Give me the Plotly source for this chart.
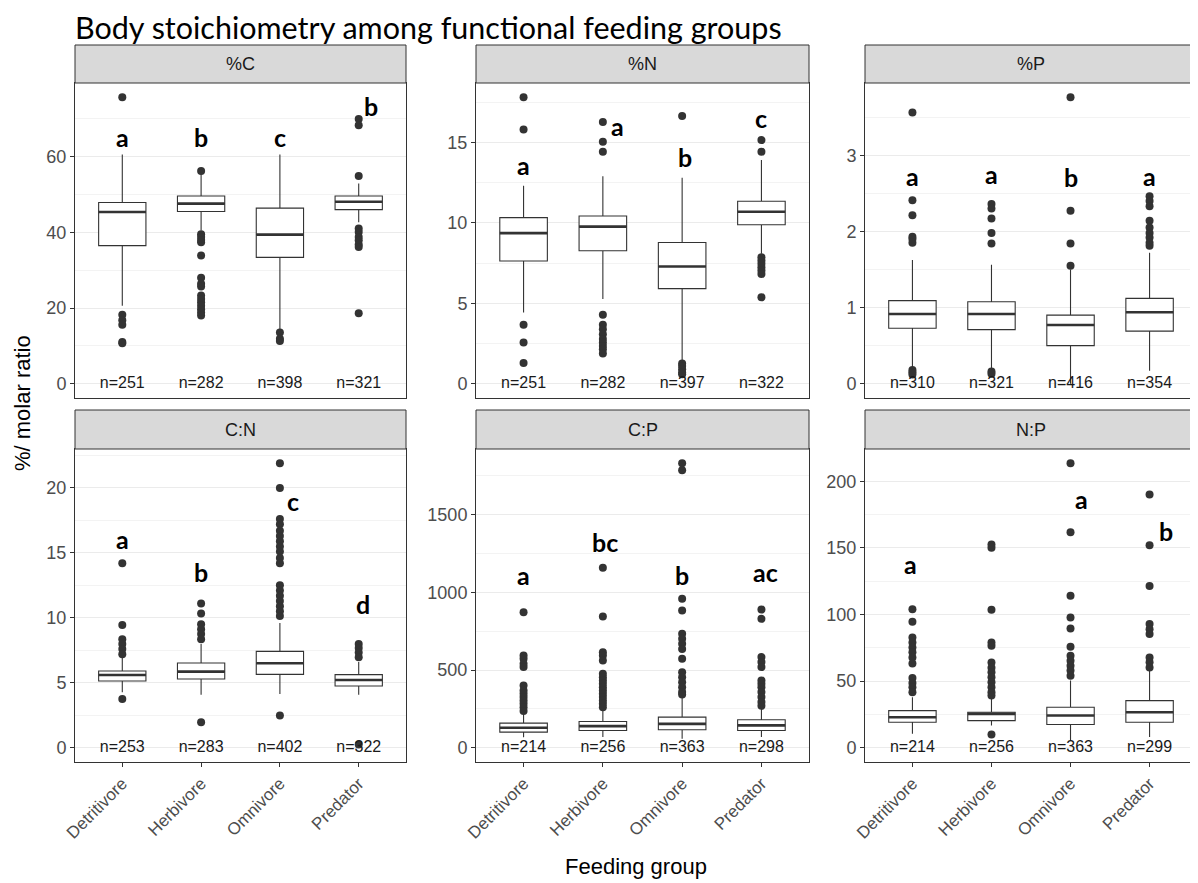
import plotly.graph_objects as go

GROUPS = ["Detritivore", "Herbivore", "Omnivore", "Predator"]
TITLE = "Body stoichiometry among functional feeding groups"
X_TITLE = "Feeding group"
Y_TITLE = "%/ molar ratio"

# ---------------- %C ----------------
PC_Q1 = [36.5, 45.5, 33.4, 46.0]
PC_MED = [45.4, 47.6, 39.4, 48.1]
PC_Q3 = [47.9, 49.6, 46.4, 49.6]
PC_LO = [20.6, 40.5, 14.4, 42.7]
PC_HI = [60.6, 55.5, 60.6, 52.9]
PC_OUT = [
    [75.7, 18.2, 16.8, 15.6, 11.0, 10.7],
    [56.2, 39.5, 38.8, 38.0, 37.4, 33.9, 28.0, 26.4, 25.7, 23.3, 22.4, 21.5, 20.6, 19.7, 18.8, 18.0],
    [13.5, 11.9, 11.3],
    [70.0, 68.3, 54.9, 41.0, 40.1, 38.8, 37.9, 36.8, 36.1, 18.6],
]
PC_N = [251, 282, 398, 321]
PC_LET = ["a", "b", "c", "b"]
PC_LET_Y = [65.3, 65.3, 65.3, 73.3]
PC_LET_DX = [0.0, 0.0, 0.0, 0.15]

# ---------------- %N ----------------
PN_Q1 = [7.63, 8.26, 5.91, 9.88]
PN_MED = [9.36, 9.76, 7.28, 10.69]
PN_Q3 = [10.32, 10.42, 8.78, 11.34]
PN_LO = [4.43, 5.26, 1.41, 8.07]
PN_HI = [12.3, 12.9, 12.8, 13.9]
PN_OUT = [
    [17.8, 15.8, 3.66, 2.56, 1.29],
    [16.27, 15.04, 14.42, 4.29, 3.66, 3.39, 3.08, 2.77, 2.56, 2.35, 2.14, 1.87],
    [16.64, 1.25, 1.1, 0.9, 0.69, 0.58],
    [15.14, 14.42, 7.86, 7.65, 7.45, 7.24, 7.03, 6.82, 5.37],
]
PN_N = [251, 282, 397, 322]
PN_LET = ["a", "a", "b", "c"]
PN_LET_Y = [13.6, 16.0, 14.1, 16.5]
PN_LET_DX = [0.0, 0.19, 0.03, 0.0]

# ---------------- %P ----------------
PP_Q1 = [0.728, 0.71, 0.50, 0.69]
PP_MED = [0.915, 0.915, 0.77, 0.937]
PP_Q3 = [1.09, 1.076, 0.90, 1.12]
PP_LO = [0.22, 0.2, 0.0, 0.17]
PP_HI = [1.625, 1.56, 1.50, 1.72]
PP_OUT = [
    [3.56, 2.41, 2.21, 1.93, 1.90, 1.85, 0.18, 0.15, 0.12],
    [2.36, 2.30, 2.17, 1.98, 1.84, 0.16, 0.13],
    [3.76, 2.27, 1.84, 1.55],
    [2.46, 2.40, 2.33, 2.14, 2.05, 1.98, 1.92, 1.85, 1.81],
]
PP_N = [310, 321, 416, 354]
PP_LET = ["a", "a", "b", "a"]
PP_LET_Y = [2.73, 2.75, 2.72, 2.73]
PP_LET_DX = [0.0, 0.0, 0.0, 0.0]

# ---------------- C:N ----------------
CN_Q1 = [5.14, 5.29, 5.65, 4.76]
CN_MED = [5.6, 5.86, 6.5, 5.22]
CN_Q3 = [5.91, 6.52, 7.42, 5.63]
CN_LO = [4.27, 4.09, 4.14, 4.09]
CN_HI = [6.96, 7.98, 9.6, 6.6]
CN_OUT = [
    [14.2, 9.44, 8.36, 7.98, 7.6, 7.2, 3.76],
    [11.1, 10.33, 9.51, 9.13, 8.75, 8.36, 1.97],
    [21.9, 20.0, 17.6, 17.2, 16.7, 16.3, 15.9, 15.5, 15.1, 14.6, 14.2, 12.5, 12.1, 11.7, 11.3, 10.9, 10.5, 10.15, 2.48],
    [7.98, 7.67, 7.34, 6.96, 0.26],
]
CN_N = [253, 283, 402, 322]
CN_LET = ["a", "b", "c", "d"]
CN_LET_Y = [16.1, 13.5, 19.0, 11.05]
CN_LET_DX = [0.0, 0.0, 0.16, 0.05]

# ---------------- C:P ----------------
CP_Q1 = [100.7, 111, 116, 111]
CP_MED = [128.6, 139, 154, 144]
CP_Q3 = [158.6, 169, 197, 180]
CP_LO = [68, 68.6, 58, 68.6]
CP_HI = [218, 240, 326, 261]
CP_OUT = [
    [872, 594, 572, 540, 519, 400, 369, 347, 326, 304, 283, 261, 236],
    [1157, 844, 615, 594, 561, 476, 454, 433, 411, 390, 369, 347, 326, 304, 283, 261],
    [1830, 1785, 958, 883, 733, 701, 669, 636, 572, 486, 454, 422, 390, 358, 343],
    [889, 829, 583, 551, 519, 433, 411, 390, 358, 326, 294, 270],
]
CP_N = [214, 256, 363, 298]
CP_LET = ["a", "bc", "b", "ac"]
CP_LET_Y = [1108, 1322, 1114, 1129]
CP_LET_DX = [0.0, 0.03, 0.0, 0.05]

# ---------------- N:P ----------------
NP_Q1 = [19.2, 20.4, 17.5, 19.2]
NP_MED = [22.9, 25.4, 24.2, 26.7]
NP_Q3 = [27.9, 26.7, 30.4, 35.4]
NP_LO = [10.5, 16.7, 5.5, 8.0]
NP_HI = [37.9, 36.7, 50.4, 57.9]
NP_OUT = [
    [104, 94.5, 82.8, 79, 75.3, 71.6, 67.8, 63.3, 52.4, 48.6, 45.4, 41.6],
    [152.6, 150, 103.5, 79, 76.6, 64, 60, 56.6, 52.9, 49.1, 45.4, 41.6, 39.2, 10],
    [213.5, 161.8, 114, 97.8, 89.5, 75.8, 69, 65.3, 61.6, 57.9, 54.1],
    [190, 151.9, 121.4, 92.8, 89, 85.3, 67.8, 64.1, 60.3],
]
NP_N = [214, 256, 363, 299]
NP_LET = ["a", "", "a", "b"]
NP_LET_Y = [137.7, 0, 187, 162.6]
NP_LET_DX = [-0.02, 0.0, 0.14, 0.21]

PANELS = [
    ("%C", PC_Q1, PC_MED, PC_Q3, PC_LO, PC_HI, PC_OUT, PC_N, PC_LET, PC_LET_Y, PC_LET_DX, 20),
    ("%N", PN_Q1, PN_MED, PN_Q3, PN_LO, PN_HI, PN_OUT, PN_N, PN_LET, PN_LET_Y, PN_LET_DX, 5),
    ("%P", PP_Q1, PP_MED, PP_Q3, PP_LO, PP_HI, PP_OUT, PP_N, PP_LET, PP_LET_Y, PP_LET_DX, 1),
    ("C:N", CN_Q1, CN_MED, CN_Q3, CN_LO, CN_HI, CN_OUT, CN_N, CN_LET, CN_LET_Y, CN_LET_DX, 5),
    ("C:P", CP_Q1, CP_MED, CP_Q3, CP_LO, CP_HI, CP_OUT, CP_N, CP_LET, CP_LET_Y, CP_LET_DX, 500),
    ("N:P", NP_Q1, NP_MED, NP_Q3, NP_LO, NP_HI, NP_OUT, NP_N, NP_LET, NP_LET_Y, NP_LET_DX, 50),
]

W, H = 1198, 883
OFF = 8  # page body margin of the html page
COL_PX = [(75, 406), (476, 809), (865, 1197)]
ROW_PX = [(83, 398, 45), (449, 762, 410)]  # plot top, plot bottom, strip top


def px(x):
    return (x - OFF) / W


def py(y):
    return 1 - (y - OFF) / H


DARK = "#333333"
TICK_COLOR = "#4D4D4D"
SANS = "Liberation Sans, Arial, sans-serif"
CAL = "Lato, Open Sans, sans-serif"

fig = go.Figure()
layout = dict(shapes=[], annotations=[])

for i, (name, q1, med, q3, lo, hi, outs, ns, lets, let_y, let_dx, dtick) in enumerate(PANELS):
    r, c = divmod(i, 3)
    k = i + 1
    xa = "x" if k == 1 else f"x{k}"
    ya = "y" if k == 1 else f"y{k}"
    x0p, x1p = COL_PX[c]
    top, bot, stop = ROW_PX[r]

    fig.add_trace(go.Box(
        x=GROUPS, q1=q1, median=med, q3=q3, lowerfence=lo, upperfence=hi,
        xaxis=xa, yaxis=ya, boxpoints=False, width=0.6, whiskerwidth=0,
        fillcolor="white", line=dict(color=DARK, width=1.1), showlegend=False,
        hoverinfo="skip",
    ))
    fig.add_trace(go.Box(
        x=GROUPS, q1=med, median=med, q3=med, lowerfence=med, upperfence=med,
        xaxis=xa, yaxis=ya, boxpoints=False, width=0.6, whiskerwidth=0,
        fillcolor="rgba(0,0,0,0)", line=dict(color=DARK, width=2.6), showlegend=False,
        hoverinfo="skip",
    ))
    ox, oy = [], []
    for g, vals in zip(GROUPS, outs):
        ox += [g] * len(vals)
        oy += vals
    fig.add_trace(go.Scatter(
        x=ox, y=oy, xaxis=xa, yaxis=ya, mode="markers",
        marker=dict(size=8, color=DARK), showlegend=False, hoverinfo="skip",
    ))
    fig.add_trace(go.Scatter(
        x=GROUPS, y=[0] * 4, xaxis=xa, yaxis=ya, mode="text",
        text=[f"n={n}" for n in ns], textposition="middle center",
        textfont=dict(family=SANS, size=16, color="#1A1A1A"),
        showlegend=False, hoverinfo="skip",
    ))
    for j, (t, yv, dx) in enumerate(zip(lets, let_y, let_dx)):
        if not t:
            continue
        layout["annotations"].append(dict(
            x=j + dx, y=yv, xref=xa, yref=ya, text=f"<b>{t}</b>", showarrow=False,
            font=dict(family=CAL, size=25, color="black"), xanchor="center", yanchor="middle",
        ))

    all_vals = [v for vals in outs for v in vals] + list(hi) + [0]
    vmax, vmin = max(all_vals), min(all_vals)
    span = vmax - vmin
    yr = [vmin - 0.05 * span, vmax + 0.05 * span]

    layout["xaxis" if k == 1 else f"xaxis{k}"] = dict(
        domain=[px(x0p), px(x1p)], anchor=ya, type="category",
        categoryorder="array", categoryarray=GROUPS, automargin=False,
        range=[-0.6, 3.6], showgrid=False, zeroline=False,
        showline=True, mirror=True, linecolor=DARK, linewidth=1,
        showticklabels=(r == 1), ticks="outside" if r == 1 else "", ticklen=4, tickcolor=DARK,
        tickangle=-45, tickfont=dict(family=SANS, size=17, color=TICK_COLOR),
    )
    layout["yaxis" if k == 1 else f"yaxis{k}"] = dict(
        domain=[py(bot), py(top)], anchor=xa, range=yr, dtick=dtick, tick0=0, automargin=False,
        showgrid=True, gridcolor="#EBEBEB", gridwidth=1, zeroline=False,
        minor=dict(dtick=dtick / 2, tick0=0, showgrid=True, gridcolor="#F3F3F3", gridwidth=0.8, ticks=""),
        showline=True, mirror=True, linecolor=DARK, linewidth=1,
        ticks="outside", ticklen=4, tickcolor=DARK,
        tickfont=dict(family=SANS, size=18, color=TICK_COLOR),
    )
    layout["shapes"].append(dict(
        type="rect", xref="paper", yref="paper",
        x0=px(x0p), x1=px(x1p), y0=py(top), y1=py(stop),
        fillcolor="#D9D9D9", line=dict(color=DARK, width=1), layer="above",
    ))
    layout["annotations"].append(dict(
        x=px((x0p + x1p) / 2), y=py((top + stop) / 2), xref="paper", yref="paper",
        text=name, showarrow=False, font=dict(family=SANS, size=18, color="#1A1A1A"),
        xanchor="center", yanchor="middle",
    ))

layout["annotations"].append(dict(
    x=px(74), y=1, xref="paper", yref="paper", text=TITLE, showarrow=False,
    font=dict(family=CAL, size=30.5, color="black"), xanchor="left", yanchor="top",
    borderpad=0,
))
layout["annotations"].append(dict(
    x=px(636), y=py(866), xref="paper", yref="paper", text=X_TITLE, showarrow=False,
    font=dict(family=SANS, size=22, color="black"), xanchor="center", yanchor="middle",
))
layout["annotations"].append(dict(
    x=px(22), y=py(403), xref="paper", yref="paper", text=Y_TITLE, showarrow=False,
    font=dict(family=SANS, size=22, color="black"), xanchor="center", yanchor="middle",
    textangle=-90,
))

fig.update_layout(
    width=W, height=H, margin=dict(l=0, r=0, t=0, b=0, autoexpand=False),
    paper_bgcolor="white", plot_bgcolor="white", boxmode="overlay",
    showlegend=False, **layout,
)

fig.write_html("out.html")
